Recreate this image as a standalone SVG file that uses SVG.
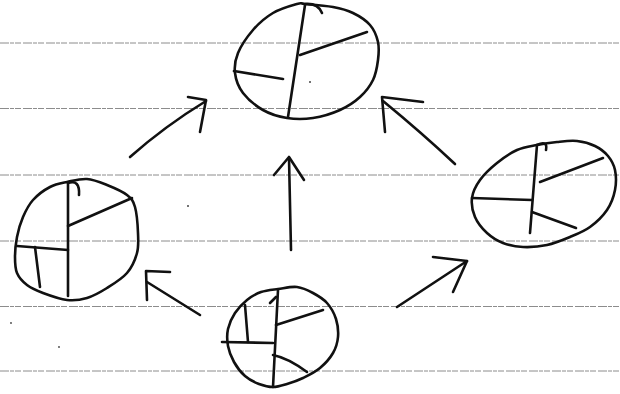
<svg xmlns="http://www.w3.org/2000/svg" width="620" height="394" viewBox="0 0 620 394">
<style>
.rule{stroke:#8c8c8c;stroke-width:1;stroke-dasharray:9 1 4 1 6 2;fill:none}
.ink{stroke:#111;stroke-width:2.6;fill:none;stroke-linecap:round;stroke-linejoin:round}
.thin{stroke-width:2.2}
.speck{fill:#444}
</style>
<rect width="620" height="394" fill="#fff"/>
<g id="paper-rules">
<line class="rule" x1="0" y1="43" x2="620" y2="43"/>
<line class="rule" x1="0" y1="108.5" x2="620" y2="108.5"/>
<line class="rule" x1="0" y1="175" x2="620" y2="175"/>
<line class="rule" x1="0" y1="241" x2="620" y2="241"/>
<line class="rule" x1="0" y1="306.5" x2="620" y2="306.5"/>
<line class="rule" x1="0" y1="371" x2="620" y2="371"/>
</g>
<g id="node-top">
<path class="ink" d="M305,4 C311,4.5 325,5.5 333,7 S346.8,10 353,13 S365.8,20.2 370,25 S376.7,36.2 378,42 S378.8,53.7 378,60 S376,73.8 373,80 S365.5,92 360,97 S347.8,106.5 340,110 S321.8,116.7 313,118 S295.3,119.3 287,118 S270.3,114.2 263,110 S247.7,99.2 243,93 S235.8,79.7 235,73 S235,60.2 238,53 S247.2,36.7 253,30 S265.7,17.3 273,13 S291.7,5.5 297,4 S299,3.5 305,4 Z"/>
<path class="ink" d="M305,4 Q318,3 322,13"/>
<path class="ink" d="M305,5 L288,117"/>
<path class="ink" d="M300,55 L367,32"/>
<path class="ink" d="M234,71 L283,79"/>
</g>
<g id="node-left">
<path class="ink" d="M67,182 C73.2,180.7 80.3,178.5 87,179 S100.3,182.3 107,185 S122.3,191.3 127,195 S133.2,200.7 135,207 S137.7,225.3 138,233 S138.8,246.3 137,253 S132,267.2 127,273 S113.7,283.8 107,288 S93.7,296 87,298 S74.3,300.8 67,300 S49.7,295.5 43,293 S31.3,288.3 27,285 S19,277.7 17,273 S15,263 15,257 S15.7,243.7 17,237 S20.3,223.2 23,217 S28.5,205 33,200 S44.3,190 50,187 S60.8,183.3 67,182 Z"/>
<path class="ink" d="M68,183 Q80,179 79,195"/>
<path class="ink" d="M68,183 L68,296"/>
<path class="ink" d="M68,226 L132,198"/>
<path class="ink" d="M17,246 L68,250"/>
<path class="ink" d="M35,247 L40,287"/>
</g>
<g id="node-right">
<path class="ink" d="M537,145 C543.7,143.7 550.3,142.7 557,142 S570.7,140.3 577,141 S589.8,143.5 595,146 S604.7,152 608,156 S613.8,164.3 615,170 S616.3,183.3 615,190 S611.2,203.8 607,210 S596.2,222.5 590,227 S577.2,234 570,237 S554.8,243.3 547,245 S530.3,247.3 523,247 S509,245.3 503,243 S491.7,237.3 487,233 S477.5,222.8 475,217 S471.2,204.2 472,198 S475.8,185.8 480,180 S490.8,168 497,163 S510.3,153 517,150 S530.3,146.3 537,145 Z"/>
<path class="ink" d="M537,145 Q548,140 546,150"/>
<path class="ink" d="M537,145 L530,233"/>
<path class="ink" d="M540,182 L603,158"/>
<path class="ink" d="M472,198 L532,200"/>
<path class="ink" d="M532,212 L576,228"/>
</g>
<g id="node-bottom">
<path class="ink" d="M278,289 C284,288.2 291.2,286.3 297,287 S308,290.3 313,293 S323.2,298.7 327,303 S334.2,313.3 336,319 S338.5,331.3 338,337 S336,347.8 333,353 S325,363.8 320,368 S308.5,375.3 303,378 S292,382.5 287,384 S277.7,387 273,387 S263.7,385.8 259,384 S249.2,379.7 245,376 S236.8,367 234,362 S229,351.5 228,346 S226.8,334.5 228,329 S231.8,317.8 235,313 S242.7,303.5 247,300 S255.8,293.8 261,292 S272,289.8 278,289 Z"/>
<path class="ink" d="M278,290 L273,387"/>
<path class="ink" d="M270,303 L276,297"/>
<path class="ink" d="M276,325 L323,310"/>
<path class="ink" d="M222,342 L273,343"/>
<path class="ink" d="M245,305 L248,342"/>
<path class="ink" d="M273,355 Q288,358 307,372"/>
</g>
<g id="connectors">
<path class="ink" d="M130,157 Q165,126 206,101"/>
<path class="ink" d="M188,97 L206,100 L200,132"/>
<path class="ink" d="M455,164 Q422,133 383,101"/>
<path class="ink" d="M423,102 L382,97 L385,132"/>
<path class="ink" d="M291,250 L289,158"/>
<path class="ink" d="M274,175 L289,157 L304,180"/>
<path class="ink" d="M200,315 L147,282"/>
<path class="ink" d="M170,272 L146,271 L147,300"/>
<path class="ink" d="M397,307 L467,261"/>
<path class="ink" d="M433,257 L467,261 L453,292"/>
</g>
<g id="specks">
<circle class="speck" cx="188" cy="206" r="1"/>
<circle class="speck" cx="310" cy="82" r="1"/>
<circle class="speck" cx="11" cy="323" r="0.9"/>
<circle class="speck" cx="59" cy="347" r="0.9"/>
</g>
</svg>
